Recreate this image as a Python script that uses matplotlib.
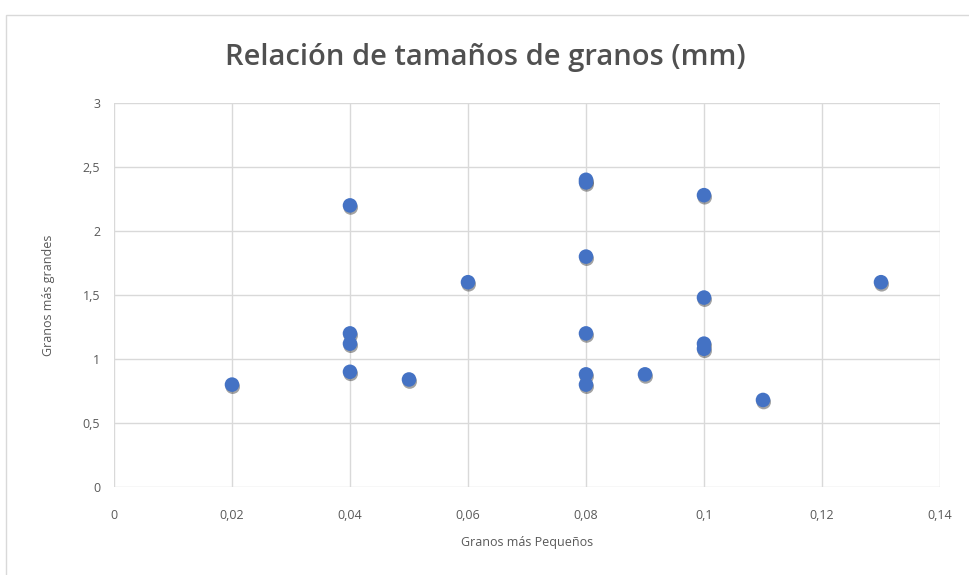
import matplotlib.pyplot as plt
from matplotlib.patches import Rectangle
from matplotlib.ticker import FuncFormatter, MultipleLocator
import matplotlib.patheffects as pe

plt.rcParams['font.family'] = ['Open Sans', 'DejaVu Sans']

# granos más pequeños (x) vs granos más grandes (y), mm
pequenos = [0.02, 0.04, 0.04, 0.04, 0.04, 0.05, 0.06, 0.08, 0.08, 0.08, 0.08,
            0.08, 0.08, 0.09, 0.10, 0.10, 0.10, 0.10, 0.11, 0.13]
grandes = [0.80, 2.20, 1.20, 1.12, 0.90, 0.84, 1.60, 2.40, 2.38, 1.80, 1.20,
           0.88, 0.80, 0.88, 2.28, 1.48, 1.12, 1.08, 0.68, 1.60]

titulo = "Relación de tamaños de granos (mm)"
etiqueta_x = "Granos más Pequeños"
etiqueta_y = "Granos más grandes"

gris_texto = '#595959'
gris_rejilla = '#d9d9d9'

fig = plt.figure(figsize=(9.7, 5.75), dpi=100)
fig.patches.append(Rectangle((6 / 970, -0.01), 1.0, 1 - 15 / 575 + 0.01,
                             transform=fig.transFigure, fill=False,
                             edgecolor='#d9d9d9', linewidth=1.0))

ax = fig.add_axes([114 / 970, 1 - 487 / 575, (940 - 114) / 970, (487 - 103) / 575])

ax.scatter(pequenos, grandes, s=110, color='#4472C4', zorder=3, linewidths=0,
           path_effects=[pe.SimplePatchShadow(offset=(0.5, -1.5), shadow_rgbFace='#1a1a1a',
                                              alpha=0.4),
                         pe.Normal()])

ax.set_xlim(0, 0.14)
ax.set_ylim(0, 3)
ax.xaxis.set_major_locator(MultipleLocator(0.02))
ax.yaxis.set_major_locator(MultipleLocator(0.5))

coma = FuncFormatter(lambda v, p: ('%g' % round(v, 4)).replace('.', ','))
ax.xaxis.set_major_formatter(coma)
ax.yaxis.set_major_formatter(coma)

ax.grid(True, color=gris_rejilla, linewidth=1.0, zorder=0)
ax.set_axisbelow(True)
for s in ax.spines.values():
    s.set_visible(False)
ax.tick_params(length=0, colors=gris_texto, labelsize=9)
ax.tick_params(axis='x', pad=16)
ax.tick_params(axis='y', pad=10)

ax.set_xlabel(etiqueta_x, color=gris_texto, fontsize=9, labelpad=10)
ax.set_ylabel(etiqueta_y, color=gris_texto, fontsize=9, labelpad=20)

fig.text(0.5, 1 - 58 / 575, titulo, ha='center', va='center',
         fontsize=21, fontweight='semibold', color='#505050')

fig.savefig('out.png', dpi=100)
